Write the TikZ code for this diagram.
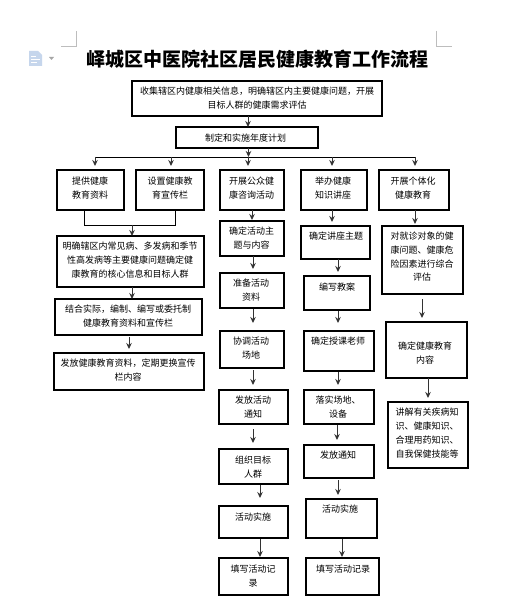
\documentclass[tikz,border=0pt]{standalone}
\usepackage{fontspec}
\setmainfont{Noto Sans CJK SC}
\usetikzlibrary{arrows.meta}
\definecolor{conn}{HTML}{333333}
\definecolor{mark}{HTML}{BDBDBD}
\definecolor{iconblue}{HTML}{C6D6EC}
\tikzset{
  boxnode/.style={draw=black,line width=1.8pt,rectangle,inner sep=0pt,outer sep=0pt},
  boxtext/.style={inner sep=0pt,outer sep=0pt,anchor=north,align=center,font=\fontsize{9}{13.7}\selectfont},
  flow/.style={draw=conn,line width=1pt,-{Stealth[length=6pt,width=5.5pt]}},
  plainline/.style={draw=black,line width=0.9pt},
  cropmark/.style={draw=mark,line width=0.8pt}
}
% name, x1, y1, x2, y2, text centre x, first line centre y, text
\newcommand{\bx}[8]{%
  \pgfmathsetmacro{\bxw}{#4-#2}\pgfmathsetmacro{\bxh}{#5-#3}%
  \pgfmathsetmacro{\bxcx}{(#2+#4)/2}\pgfmathsetmacro{\bxcy}{(#3+#5)/2}%
  \pgfmathsetmacro{\bxty}{#7-3.7}%
  \node[boxnode,minimum width=\bxw pt,minimum height=\bxh pt] (#1) at (\bxcx,\bxcy) {};
  \node[boxtext] (#1t) at (#6,\bxty) {#8};
}
\newcommand{\conn}[6]{\draw[flow] ([shift={(#2,#3)}]#1.south) -- ([shift={(#5,-#6)}]#4.north);}
\begin{document}
\begin{tikzpicture}[x=1pt,y=-1pt]
\useasboundingbox (0,0) rectangle (515,601);
\fill[white] (0,0) rectangle (515,601);
% page furniture
\draw[cropmark] (61,46) -- (76,46) -- (76,31);
\draw[cropmark] (436,31) -- (436,46) -- (452,46);
\fill[iconblue] (29,51) -- (38,51) -- (42,55) -- (42,66) -- (29,66) -- cycle;
\draw[white,line width=0.9pt] (31,56) -- (36,56) (31,59) -- (40,59) (31,62) -- (37,62);
\fill[gray!70] (49,57) -- (54,57) -- (51.5,60) -- cycle;
% title
\node[inner sep=0pt,font=\fontsize{19}{22}\selectfont\bfseries] (title) at (257,59) {峄城区中医院社区居民健康教育工作流程};
% boxes
\bx{bA}{132}{81}{382}{116}{257}{91}{收集辖区内健康相关信息，明确辖区内主要健康问题，开展\\目标人群的健康需求评估}
\bx{bB}{176}{127}{318}{148}{245.5}{138}{制定和实施年度计划}
\bx{a}{57}{170}{124}{210}{90}{181}{提供健康\\教育资料}
\bx{b}{136}{170}{204}{210}{170}{181}{设置健康教\\育宣传栏}
\bx{c}{220}{170}{284}{210}{251.5}{181}{开展公众健\\康咨询活动}
\bx{d}{301}{170}{367}{210}{333}{181}{举办健康\\知识讲座}
\bx{e}{379}{170}{449}{210}{413}{181}{开展个体化\\健康教育}
\bx{f}{57}{236}{204}{287}{130}{246}{明确辖区内常见病、多发病和季节\\性高发病等主要健康问题确定健\\康教育的核心信息和目标人群}
\bx{g}{55}{299}{202}{335}{128}{309}{结合实际，编制、编写或委托制\\健康教育资料和宣传栏}
\bx{h}{54}{353}{204}{390}{128}{363}{发放健康教育资料，定期更换宣传\\栏内容}
\bx{ca}{220}{221}{284}{256}{251.5}{231}{确定活动主\\题与内容}
\bx{cb}{220}{273}{284}{308}{251}{283}{准备活动\\资料}
\bx{cc}{220}{331}{284}{368}{251}{341}{协调活动\\场地}
\bx{cd}{219}{390}{288}{424}{253}{400}{发放活动\\通知}
\bx{ce}{219}{449}{288}{484}{253}{460}{组织目标\\人群}
\bx{cf}{219}{506}{288}{538}{253}{517}{活动实施}
\bx{cg}{219}{558}{288}{595}{253}{569}{填写活动记\\录}
\bx{da}{301}{226}{370}{259}{336}{236}{确定讲座主题}
\bx{db}{304}{276}{370}{310}{337}{287}{编写教案}
\bx{dc}{304}{331}{374}{371}{338}{341}{确定授课老师}
\bx{dd}{304}{390}{374}{424}{338}{400}{落实场地、\\设备}
\bx{de}{304}{445}{374}{478}{338}{455}{发放通知}
\bx{df}{306}{499}{377}{538}{340}{509}{活动实施}
\bx{dg}{306}{558}{379}{595}{343}{569}{填写活动记录}
\bx{ea}{382}{226}{463}{294}{422}{236}{对就诊对象的健\\康问题、健康危\\险因素进行综合\\评估}
\bx{eb}{386}{322}{467}{378}{425}{346}{确定健康教育\\内容}
\bx{ec}{388}{402}{468}{468}{427}{412}{讲解有关疾病知\\识、健康知识、\\合理用药知识、\\自我保健技能等}
% top connectors and bus
\coordinate (busl) at (95,157);
\coordinate (busr) at (415,157);
\conn{bA}{-9}{0}{bB}{1}{0}
\draw[flow] ([shift={(1.5,0)}]bB.south) -- ([shift={(1.5,9)}]bB.south);
\draw[plainline] (busl) -- (busr);
\draw[flow] ([shift={(4.5,-13)}]a.north) -- ([shift={(4.5,-4)}]a.north);
\draw[flow] ([shift={(1,-13)}]b.north) -- ([shift={(1,-4)}]b.north);
\draw[flow] ([shift={(-4,-13)}]c.north) -- ([shift={(-4,-4)}]c.north);
\draw[flow] ([shift={(-2,-13)}]d.north) -- ([shift={(-2,-4)}]d.north);
\draw[flow] ([shift={(1,-13)}]e.north) -- ([shift={(1,-4)}]e.north);
% left branch
\draw[plainline] ([shift={(-6,0)}]a.south) -- ([shift={(-6,15)}]a.south) -- ([shift={(5,15)}]b.south) -- ([shift={(5,0)}]b.south);
\draw[flow] ([shift={(1.5,-11)}]f.north) -- ([shift={(1.5,0)}]f.north);
\conn{f}{1.5}{0}{g}{3.5}{0}
\conn{g}{0.5}{2}{h}{0}{4}
% centre column
\conn{c}{0}{0}{ca}{0}{1}
\conn{ca}{1}{0}{cb}{1}{4}
\conn{cb}{1}{1}{cc}{1}{8}
\conn{cc}{1}{2}{cd}{-0.5}{5}
\conn{cd}{-0.5}{5}{ce}{-0.5}{6}
\conn{ce}{6.5}{1}{cf}{6.5}{8}
\conn{cf}{6.5}{1}{cg}{6.5}{1}
% lecture column
\conn{d}{-2}{0}{da}{-3.5}{4}
\conn{da}{2.5}{0}{db}{1}{4}
\conn{db}{1}{1}{dc}{-1}{8}
\conn{dc}{-1}{1}{dd}{-1}{5}
\conn{dd}{-2}{1}{de}{-2}{5}
\conn{de}{-1}{2}{df}{-3.5}{4}
\conn{df}{0.5}{1}{dg}{-0.5}{1}
% individual column
\conn{e}{1}{0}{ea}{-7.5}{2}
\conn{ea}{-0.5}{5}{eb}{-4.5}{4}
\conn{eb}{1.5}{0}{ec}{0}{4}
\end{tikzpicture}
\end{document}
